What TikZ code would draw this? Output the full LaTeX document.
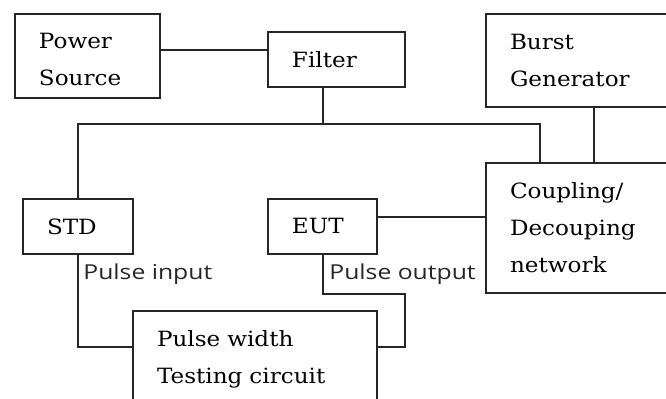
\documentclass[tikz,border=0pt]{standalone}
\usepackage{fontspec}
\setmainfont{DejaVu Serif}[FakeStretch=1.1]
\newfontfamily\tagfont{Open Sans}[FakeStretch=1.2]
\usetikzlibrary{positioning}

\begin{document}
\begin{tikzpicture}[x=0.5pt,y=-0.5pt,
  block/.style = {draw=black!85, line width=1pt, anchor=north west,
    align=left, inner xsep=12pt, inner ysep=0pt,
    font=\fontsize{10.5}{18.5}\selectfont},
  wire/.style = {draw=black!85, line width=1pt},
  tag/.style = {anchor=base west, inner sep=0pt, text=black!85,
    font=\tagfont\fontsize{10.3}{12}\selectfont}]
  \clip (0,0) rectangle (666,399);
  % boxes
  \node[block, minimum width=72.5pt, minimum height=42pt, text width=48.5pt]
    (power) at (14,13) {\rule{0pt}{10.7pt}Power\\Source};
  \node[block, minimum width=68.5pt, minimum height=27.5pt, text width=44.5pt]
    (filter) at (267,31) {Filter};
  \node[block, minimum width=107.5pt, minimum height=46.5pt, text width=83.5pt]
    (burst) at (485,13) {Burst\\Generator};
  \node[block, minimum width=107.5pt, minimum height=65pt, text width=83.5pt]
    (coupling) at (485,162) {Coupling/\\Decouping\\network};
  \node[block, minimum width=55pt, minimum height=27.5pt, text width=31pt]
    (std) at (22,198) {STD};
  \node[block, minimum width=54.5pt, minimum height=27.5pt, text width=30.5pt]
    (eut) at (267,198) {EUT};
  \node[block, minimum width=122pt, minimum height=48pt, text width=98pt]
    (testing) at (132,310) {Pulse width\\Testing circuit};
  % connection points
  \coordinate (pout) at ([yshift=3pt]power.east);
  \coordinate (fdrop) at ([xshift=-6.75pt]filter.south);
  \coordinate (bus) at (fdrop |- 0,124);
  \coordinate (cin) at ([xshift=27.5pt]coupling.north west);
  \coordinate (bdrop) at ([xshift=54.5pt]burst.south west);
  \coordinate (eout) at ([yshift=4.75pt]eut.east);
  \coordinate (tin) at ([yshift=-18.5pt]testing.north west);
  \coordinate (tout) at ([yshift=-18.5pt]testing.north east);
  % wires
  \draw[wire] (pout) -- (pout -| filter.west);
  \draw[wire] (fdrop) -- (bus);
  \draw[wire] (std.north) |- (bus) -| (cin);
  \draw[wire] (bdrop) -- (bdrop |- coupling.north);
  \draw[wire] (eout) -- (eout -| coupling.west);
  \draw[wire] (std.south) |- (tin);
  \draw[wire] (eut.south) |- ++(82,39) |- (tout);
  % pulse labels
  \node[tag] (inlabel) at ([xshift=2.5pt,yshift=-12.5pt]std.south) {Pulse input};
  \node[tag] (outlabel) at ([xshift=3.25pt,yshift=-12.5pt]eut.south) {Pulse output};
\end{tikzpicture}
\end{document}
